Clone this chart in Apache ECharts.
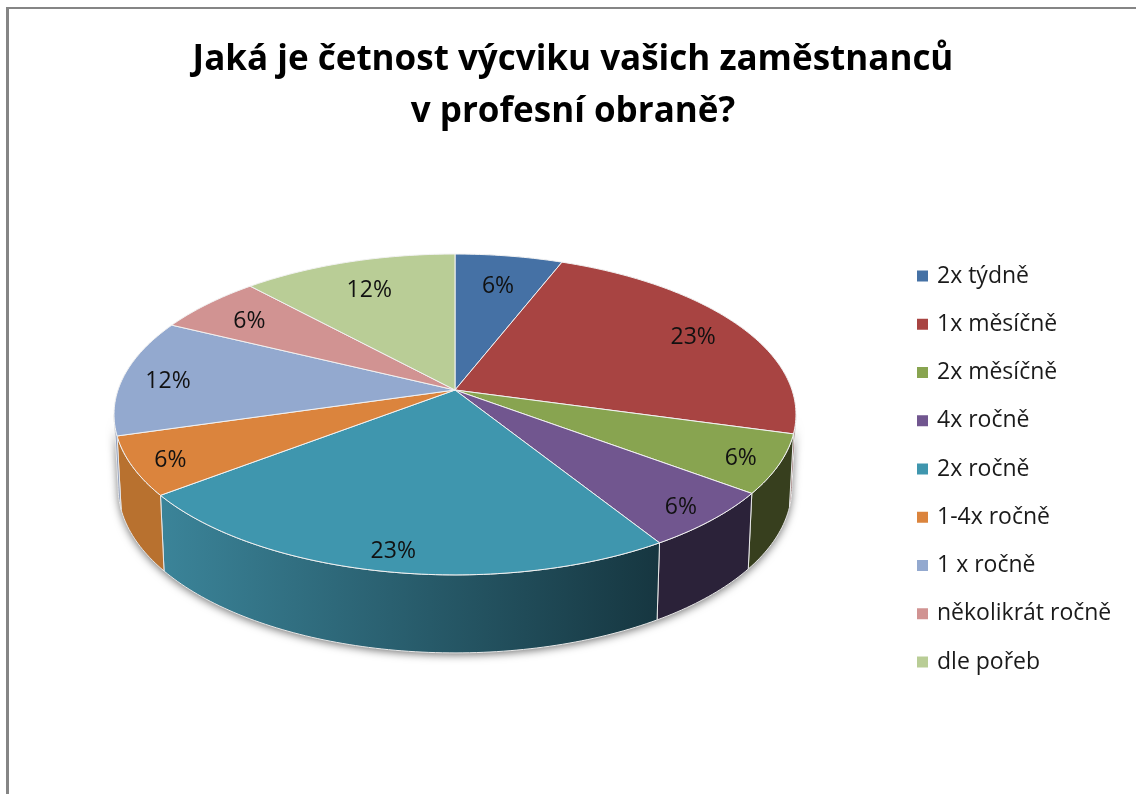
<!DOCTYPE html>
<html>
<head>
<meta charset="utf-8">
<style>html,body{margin:0;padding:0;background:#fff}#pie{width:1136px;height:794px}</style>
<script src="https://cdn.jsdelivr.net/npm/echarts@6/dist/echarts.min.js"></script>
</head>
<body>
<div id="pie"></div>
<script>
const categories = ["2x týdně", "1x měsíčně", "2x měsíčně", "4x ročně", "2x ročně", "1-4x ročně", "1 x ročně", "několikrát ročně", "dle pořeb"];
const percents = [5.9, 23.4, 5.9, 5.9, 23.4, 5.9, 11.8, 5.9, 11.8];
const topColors = ["#4571a5", "#a84442", "#88a450", "#71568f", "#3f96ae", "#db843d", "#93a9cf", "#d19392", "#b9cd96"];
const wallColors = ["#2c4768", "#6f2c2b", "#373f1e", "#2b2239", null, "#b8712f", "#8a9abb", "#8c6261", "#7c8964"];
const tealWall = ["#3b8499", "#163640"];

// tilted disc seen in perspective, apex of the pie is not the middle of the ellipse
const cx = 455, cy = 390, rx = 337, ry = 156.7, persp = 0.1525;
const font = "'Open Sans', sans-serif";

function project(deg, r) {
    let a = deg * Math.PI / 180;
    let x = Math.sin(a) * r, y = -Math.cos(a) * r;
    let d = 1 - persp * y;
    return [cx + rx * x / d, cy + ry * y / d];
}
function lower(deg) {
    let p = project(deg, 1);
    let y = -Math.cos(deg * Math.PI / 180);
    return [cx + (p[0] - cx) * 0.988, p[1] + 72 + 6 * y];
}
function arc(from, to, fn) {
    let pts = [];
    let n = Math.max(1, Math.ceil(Math.abs(to - from)));
    for (let i = 0; i <= n; i++) pts.push(fn(from + (to - from) * i / n));
    return pts;
}

// rim only shows on the side turned to the viewer
const wallFrom = Math.acos(-persp) * 180 / Math.PI, wallTo = 360 - wallFrom;

let starts = [], sum = 0;
percents.forEach(v => { starts.push(sum); sum += v; });
const perDegree = 360 / sum;

function wallShape(from, to) {
    return arc(from, to, d => project(d, 1)).concat(arc(to, from, lower));
}

function renderSlice(i) {
    return function (params, api) {
        let from = api.value(1) * perDegree, to = from + api.value(0) * perDegree;
        let kids = [];
        let wa = Math.max(from, wallFrom), wb = Math.min(to, wallTo);
        if (wb > wa) {
            let fill = wallColors[i];
            if (!fill) {
                fill = new echarts.graphic.LinearGradient(0, 0, 1, 0, [
                    { offset: 0, color: tealWall[0] },
                    { offset: 1, color: tealWall[1] }
                ]);
            }
            kids.push({ type: "polygon", shape: { points: wallShape(wa, wb) }, style: { fill: fill, stroke: "#e8e8e8", lineWidth: 1 } });
        }
        let top = [[cx, cy]].concat(arc(from, to, d => project(d, 1)));
        kids.push({ type: "polygon", shape: { points: top }, style: { fill: topColors[i], stroke: "#f2f2f2", lineWidth: 1 } });
        let mid = (from + to) / 2;
        let rad = mid * Math.PI / 180;
        let r = 0.83 - 0.06 * Math.cos(rad) + 0.04 * Math.pow(Math.sin(rad), 2);
        let lp = project(mid, r);
        kids.push({
            type: "text", z2: 5,
            style: { x: lp[0], y: lp[1] + 3, text: Math.round(api.value(0)) + "%", font: "23px " + font, fill: "#111", textAlign: "center", textVerticalAlign: "middle" }
        });
        return { type: "group", children: kids };
    };
}

let series = [{
    name: "shadow",
    type: "custom",
    coordinateSystem: "none",
    silent: true,
    data: [[1]],
    renderItem: function () {
        return {
            type: "polygon",
            shape: { points: wallShape(wallFrom, wallTo) },
            style: { fill: "#888", shadowBlur: 9, shadowColor: "rgba(0,0,0,0.55)", shadowOffsetY: 2 }
        };
    }
}];
categories.forEach((name, i) => {
    series.push({
        name: name,
        type: "custom",
        coordinateSystem: "none",
        silent: true,
        itemStyle: { color: topColors[i] },
        data: [[percents[i], starts[i]]],
        renderItem: renderSlice(i)
    });
});

let myChart = echarts.init(document.getElementById("pie"), null, { renderer: "canvas" });
myChart.setOption({
    animation: false,
    backgroundColor: "#fff",
    title: {
        text: "Jaká je četnost výcviku vašich zaměstnanců\nv profesní obraně?",
        left: 568,
        top: 29,
        textAlign: "center",
        textStyle: { fontFamily: font, fontSize: 35, fontWeight: "bold", color: "#000", lineHeight: 52 }
    },
    legend: {
        data: categories,
        orient: "vertical",
        left: 917,
        top: 264,
        padding: 0,
        icon: "rect",
        itemWidth: 11,
        itemHeight: 11,
        itemGap: 24.25,
        selectedMode: false,
        textStyle: { fontFamily: font, fontSize: 23, color: "#1a1a1a", lineHeight: 24, padding: [0, 0, 0, 4] }
    },
    graphic: [
        { type: "rect", silent: true, shape: { x: 6, y: 7, width: 3, height: 787 }, style: { fill: "#858585" } },
        { type: "rect", silent: true, shape: { x: 6, y: 7, width: 1130, height: 2 }, style: { fill: "#858585" } }
    ],
    series: series
});
</script>
</body>
</html>
